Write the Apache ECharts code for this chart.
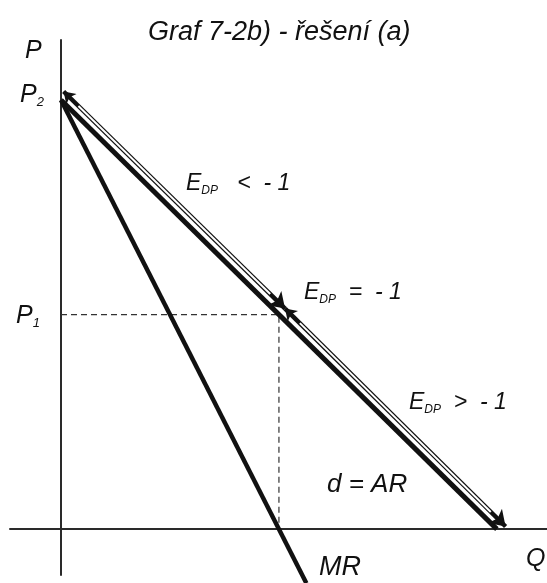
<!DOCTYPE html>
<html>
<head>
<meta charset="utf-8">
<script src="https://cdn.jsdelivr.net/npm/echarts@6/dist/echarts.min.js"></script>
<style>
  html, body { margin: 0; padding: 0; background: #fff; }
  #chart { width: 547px; height: 583px; }
</style>
</head>
<body>
<div id="chart"></div>
<script>
// Linear demand curve d = AR and the marginal revenue curve MR
const demandLine = [[0, 10], [10, 0]];
const mrLine = [[0, 10], [5.63, -1.26]];
// Unit-elastic point (Q1, P1) on the demand curve
const unitPoint = [5, 5];
const guideLine = [[0, unitPoint[1]], unitPoint, [unitPoint[0], 0]];
// Elasticity ranges drawn as double-headed arrows beside the demand curve
const elasticUpper = [[0.06, 10.2], [5.14, 5.14]];
const elasticLower = [[5.14, 5.14], [10.2, 0.06]];

const FONT = 'Liberation Sans';
const ink = '#111';
const textInk = '#111';

const chart = echarts.init(document.getElementById('chart'), null, { renderer: 'canvas' });

function sub(main, subText, rest, size) {
  return {
    text: '{m|' + main + '}{s|' + subText + '}' + (rest ? '{m|' + rest + '}' : ''),
    rich: {
      m: { fontSize: size, fontStyle: 'italic', fontFamily: FONT, lineHeight: size + 2, fill: textInk },
      s: { fontSize: Math.round(size * 0.52), fontStyle: 'italic', fontFamily: FONT, lineHeight: Math.round(size * 0.5), verticalAlign: 'bottom', fill: textInk }
    },
    verticalAlign: 'middle',
    align: 'left'
  };
}

function plain(txt, size) {
  return {
    text: txt,
    fontSize: size,
    fontStyle: 'italic',
    fontFamily: FONT,
    fill: textInk,
    verticalAlign: 'middle',
    align: 'left'
  };
}

const arrowBase = {
  type: 'lines',
  coordinateSystem: 'cartesian2d',
  silent: true,
  z: 3
};

chart.setOption({
  animation: false,
  backgroundColor: '#fff',
  grid: { left: 10, right: 0, top: 40, bottom: 8 },
  xAxis: {
    type: 'value', min: -1.17, max: 11.15,
    axisLine: { onZero: true, lineStyle: { color: '#2a2a2a', width: 2 } },
    axisTick: { show: false }, axisLabel: { show: false }, splitLine: { show: false }
  },
  yAxis: {
    type: 'value', min: -1.07, max: 11.4,
    axisLine: { onZero: true, lineStyle: { color: '#2a2a2a', width: 2 } },
    axisTick: { show: false }, axisLabel: { show: false }, splitLine: { show: false }
  },
  series: [
    {
      name: 'guide', type: 'line', data: guideLine, symbol: 'none', clip: false, z: 1,
      lineStyle: { color: '#333', width: 1.2, type: [6, 4] }
    },
    {
      name: 'MR', type: 'line', data: mrLine, symbol: 'none', clip: false, z: 2,
      lineStyle: { color: ink, width: 4.5 }
    },
    {
      name: 'd = AR', type: 'line', data: demandLine, symbol: 'none', clip: false, z: 2,
      lineStyle: { color: ink, width: 5 }
    },
    Object.assign({}, arrowBase, {
      name: 'elastic outline',
      symbol: ['arrow', 'arrow'], symbolSize: [11, 15],
      lineStyle: { color: ink, width: 4.5, opacity: 1, curveness: 0 },
      data: [{ coords: elasticUpper }, { coords: elasticLower }]
    }),
    Object.assign({}, arrowBase, {
      name: 'elastic fill',
      z: 4,
      symbol: ['none', 'none'],
      lineStyle: { color: '#fff', width: 2, opacity: 1, curveness: 0 },
      data: [
        { coords: [[0.4, 9.86], [4.8, 5.48]] },
        { coords: [[5.48, 4.8], [9.86, 0.4]] }
      ]
    })
  ],
  graphic: [
    { type: 'text', x: 148, y: 32, style: plain('Graf 7-2b) - řešení (a)', 27) },
    { type: 'text', x: 25, y: 51, style: plain('P', 25) },
    { type: 'text', x: 20, y: 95, style: sub('P', '2', '', 25) },
    { type: 'text', x: 16, y: 316, style: sub('P', '1', '', 25) },
    { type: 'text', x: 186, y: 184, style: sub('E', 'DP', '   <  - 1', 23) },
    { type: 'text', x: 304, y: 293, style: sub('E', 'DP', '  =  - 1', 23) },
    { type: 'text', x: 409, y: 403, style: sub('E', 'DP', '  >  - 1', 23) },
    { type: 'text', x: 327, y: 485, style: plain('d = AR', 26) },
    { type: 'text', x: 319, y: 567, style: plain('MR', 27) },
    { type: 'text', x: 526, y: 559, style: plain('Q', 25) }
  ]
});
</script>
</body>
</html>
